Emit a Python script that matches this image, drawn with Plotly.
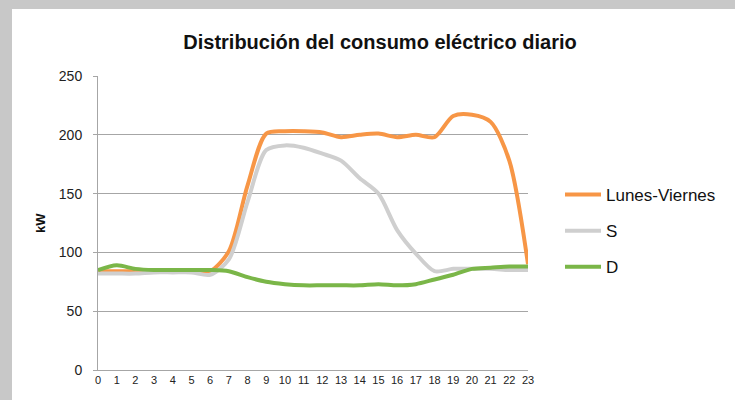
import plotly.graph_objects as go

hours = list(range(24))
hour_labels = [str(h) for h in hours]

lunes_viernes = [84, 84, 84, 84, 84, 84, 84, 101, 157, 201, 203, 203, 202, 198, 200, 201, 198, 200, 198, 216, 217, 211, 178, 90]
sabado = [82, 82, 82, 83, 83, 83, 81, 94, 143, 187, 191, 189, 184, 178, 163, 150, 119, 99, 84, 86, 86, 86, 85, 85]
domingo = [85, 89, 86, 85, 85, 85, 85, 84, 79, 75, 73, 72, 72, 72, 72, 73, 72, 73, 77, 81, 86, 87, 88, 88]

series_names = ["Lunes-Viernes", "S", "D"]
series_colors = ["#F79646", "#CFCFCF", "#7AB648"]

FONT = "Liberation Sans, Arial, sans-serif"

fig = go.Figure()
for name, vals, col in zip(series_names, [lunes_viernes, sabado, domingo], series_colors):
    fig.add_trace(go.Scatter(
        x=hours, y=vals, name=name, mode="lines",
        line=dict(color=col, width=4, shape="spline", smoothing=0.8),
        legendgroup=name,
    ))

L, R, T, B = 98, 528, 76, 370
W, H = 735, 400
pw, ph = R - L, B - T

fig.update_layout(
    width=W, height=H,
    margin=dict(l=L, r=W - R, t=T, b=H - B),
    paper_bgcolor="#C8C8C8",
    plot_bgcolor="white",
    showlegend=True,
    title=dict(text="<b>Distribución del consumo eléctrico diario</b>",
               x=380 / W, xref="container", xanchor="center",
               y=1 - 42 / H, yref="container", yanchor="middle",
               font=dict(family=FONT, size=20, color="#111")),
    legend=dict(x=(560 - L) / pw, y=(B - 177) / ph, xanchor="left", yanchor="top",
                font=dict(family=FONT, size=17, color="#111"),
                bgcolor="rgba(0,0,0,0)", tracegroupgap=11, itemwidth=36),
    xaxis=dict(range=[0, 23], tickmode="array", tickvals=hours, ticktext=hour_labels,
               showgrid=False, zeroline=False, showline=True, linecolor="#A6A6A6", linewidth=1,
               ticks="", tickfont=dict(family=FONT, size=11, color="#222"), fixedrange=True),
    yaxis=dict(range=[0, 250], tickvals=[0, 50, 100, 150, 200, 250],
               showgrid=True, gridcolor="#A6A6A6", gridwidth=1, zeroline=False,
               showline=True, linecolor="#A6A6A6", linewidth=1,
               ticks="outside", ticklen=4, tickcolor="#A6A6A6",
               ticklabelstandoff=8,
               tickfont=dict(family=FONT, size=14, color="#222"), fixedrange=True),
    shapes=[dict(type="rect", xref="paper", yref="paper",
                 x0=(12 - L) / pw, x1=(W + 5 - L) / pw,
                 y0=(B - H - 5) / ph, y1=(B - 9) / ph,
                 fillcolor="white", line=dict(width=0), layer="below")],
    annotations=[dict(text="<b>kW</b>", textangle=-90, xref="paper", yref="paper",
                      x=(40 - L) / pw, y=(B - 223) / ph, showarrow=False,
                      xanchor="center", yanchor="middle",
                      font=dict(family=FONT, size=13, color="#111"))],
)

fig.write_html("out.html",
               config={"displayModeBar": False},
               post_script="document.body.style.margin='0';document.body.style.overflow='hidden';")
